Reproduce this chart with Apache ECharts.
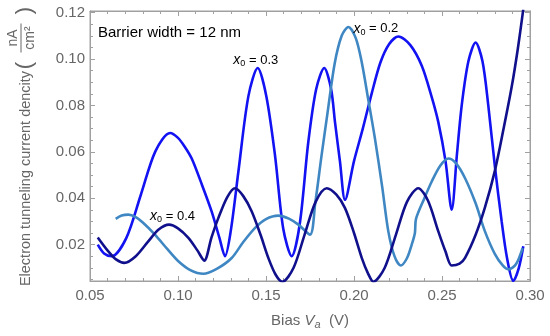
<!DOCTYPE html>
<html>
<head>
<meta charset="utf-8">
<script src="https://cdn.jsdelivr.net/npm/echarts@6/dist/echarts.min.js"></script>
<style>html,body{margin:0;padding:0;background:#fff}#c{width:550px;height:336px}</style>
</head>
<body>
<div id="c"></div>
<script>
// ---- data ----
var xTicks = [0.05, 0.10, 0.15, 0.20, 0.25, 0.30];
var yTicks = [0.02, 0.04, 0.06, 0.08, 0.10, 0.12];
var yMinorTicks = [0.005, 0.01, 0.015, 0.025, 0.03, 0.035, 0.045, 0.05, 0.055, 0.065, 0.07, 0.075, 0.085, 0.09, 0.095, 0.105, 0.11, 0.115];

// x0 = 0.3 (bright blue)
var bias03 = [0.0544,0.0580,0.0623,0.0706,0.0789,0.0872,0.0955,0.1000,0.1040,0.1078,0.1135,0.1191,0.1235,0.1267,0.1300,0.1343,0.1400,0.1453,0.1501,0.1551,0.1598,0.1646,0.1692,0.1740,0.1785,0.1831,0.1870,0.1892,0.1920,0.1949,0.2000,0.2050,0.2100,0.2150,0.2200,0.2252,0.2320,0.2385,0.2440,0.2479,0.2520,0.2555,0.2585,0.2612,0.2650,0.2691,0.2730,0.2763,0.2800,0.2839,0.2870,0.2905,0.2935,0.2962];
var curr03 = [0.0200,0.0162,0.0150,0.0228,0.0415,0.0603,0.0681,0.0660,0.0620,0.0571,0.0460,0.0343,0.0230,0.0150,0.0260,0.0514,0.0840,0.0961,0.0843,0.0586,0.0268,0.0150,0.0290,0.0640,0.0870,0.0961,0.0870,0.0728,0.0560,0.0393,0.0560,0.0700,0.0850,0.0985,0.1065,0.1097,0.1060,0.0971,0.0840,0.0728,0.0560,0.0350,0.0590,0.0800,0.0990,0.1071,0.0990,0.0800,0.0540,0.0300,0.0140,0.0043,0.0095,0.0193];

// x0 = 0.2 (steel blue)
var bias02 = [0.0646,0.0680,0.0718,0.0760,0.0800,0.0869,0.0940,0.1002,0.1070,0.1144,0.1220,0.1305,0.1370,0.1438,0.1500,0.1570,0.1630,0.1684,0.1750,0.1780,0.1815,0.1850,0.1890,0.1930,0.1968,0.2010,0.2044,0.2080,0.2119,0.2160,0.2195,0.2230,0.2265,0.2300,0.2328,0.2346,0.2352,0.2400,0.2441,0.2490,0.2536,0.2580,0.2631,0.2690,0.2744,0.2800,0.2845,0.2878,0.2920,0.2958];
var curr02 = [0.0311,0.0325,0.0329,0.0318,0.0295,0.0243,0.0180,0.0128,0.0090,0.0074,0.0095,0.0142,0.0210,0.0272,0.0310,0.0325,0.0312,0.0286,0.0243,0.0380,0.0580,0.0770,0.0980,0.1100,0.1138,0.1090,0.0986,0.0830,0.0657,0.0450,0.0257,0.0150,0.0110,0.0140,0.0200,0.0250,0.0310,0.0400,0.0471,0.0540,0.0571,0.0550,0.0486,0.0380,0.0257,0.0160,0.0110,0.0093,0.0115,0.0185];

// x0 = 0.4 (navy)
var bias04 = [0.0544,0.0604,0.0650,0.0695,0.0760,0.0831,0.0890,0.0949,0.1000,0.1059,0.1110,0.1149,0.1190,0.1229,0.1280,0.1324,0.1370,0.1419,0.1470,0.1513,0.1555,0.1593,0.1656,0.1719,0.1782,0.1845,0.1900,0.1949,0.2000,0.2044,0.2080,0.2110,0.2174,0.2238,0.2301,0.2365,0.2420,0.2479,0.2520,0.2555,0.2600,0.2631,0.2690,0.2744,0.2801,0.2850,0.2896,0.2930,0.2962];
var curr04 = [0.0231,0.0171,0.0135,0.0121,0.0150,0.0214,0.0265,0.0286,0.0270,0.0229,0.0175,0.0131,0.0230,0.0314,0.0405,0.0443,0.0410,0.0343,0.0240,0.0143,0.0070,0.0040,0.0099,0.0242,0.0384,0.0443,0.0415,0.0357,0.0250,0.0143,0.0075,0.0040,0.0099,0.0242,0.0384,0.0443,0.0390,0.0257,0.0170,0.0110,0.0118,0.0143,0.0240,0.0360,0.0520,0.0700,0.0880,0.1040,0.1215];

var seriesNames = ['x0 = 0.3', 'x0 = 0.2', 'x0 = 0.4'];
var labelPos03 = [0.1442, 0.0995];
var labelPos02 = [0.2124, 0.1130];
var labelPos04 = [0.0969, 0.0323];

function zip(a, b) { return a.map(function (v, i) { return [v, b[i]]; }); }

var FONT = 'Liberation Sans, Arial, Helvetica, sans-serif';
var GRAY = '#666666';
var FRAME = '#a0a0a0';

var labRich = {
  i: { fontFamily: FONT, fontStyle: 'italic', fontSize: 14, color: '#000', lineHeight: 16 },
  s: { fontFamily: FONT, fontSize: 9, color: '#000', lineHeight: 9, verticalAlign: 'bottom' },
  t: { fontFamily: FONT, fontSize: 13, color: '#000', lineHeight: 16 }
};
function mark(pos, val) {
  return {
    symbol: 'rect', symbolSize: 1, silent: true,
    itemStyle: { color: 'rgba(0,0,0,0)' },
    label: { show: true, position: 'inside', formatter: '{i|x}{s|0}{t| = ' + val + '}', rich: labRich },
    data: [{ coord: pos }]
  };
}

var chart = echarts.init(document.getElementById('c'), null, { renderer: 'canvas' });

function yAx(pos, values, len, labels) {
  return {
    type: 'value', position: pos, min: 0.0043, max: 0.1207, offset: 0,
    axisLine: { show: true, lineStyle: { color: FRAME, width: 1 } },
    axisTick: { show: true, inside: true, length: len, customValues: values, lineStyle: { color: FRAME } },
    axisLabel: labels ? { show: true, customValues: values, formatter: function (v) { return v.toFixed(2); },
      fontSize: 15, color: GRAY, fontFamily: FONT, margin: 5 } : { show: false },
    splitLine: { show: false }
  };
}
function xAx(pos, labels) {
  return {
    type: 'value', position: pos, min: 0.05, max: 0.30, interval: 0.05,
    axisLine: { show: true, lineStyle: { color: FRAME, width: 1 } },
    axisTick: { show: true, inside: true, length: 5, lineStyle: { color: FRAME } },
    minorTick: { show: true, splitNumber: 5, length: 3, lineStyle: { color: FRAME } },
    axisLabel: labels ? { show: true, formatter: function (v) { return v.toFixed(2); },
      fontSize: 15, color: GRAY, fontFamily: FONT, margin: 7 } : { show: false },
    splitLine: { show: false }, minorSplitLine: { show: false },
    name: labels ? '{t|Bias }{i|V}{s|a}{t|  (V)}' : '',
    nameLocation: 'middle', nameGap: 31,
    nameTextStyle: {
      rich: {
        t: { fontFamily: FONT, fontSize: 15, color: GRAY, lineHeight: 18 },
        i: { fontFamily: FONT, fontSize: 15, fontStyle: 'italic', color: GRAY, lineHeight: 18 },
        s: { fontFamily: FONT, fontSize: 11, fontStyle: 'italic', color: GRAY, lineHeight: 10, verticalAlign: 'bottom' }
      }
    }
  };
}

var option = {
  animation: false,
  backgroundColor: '#ffffff',
  grid: { left: 90, right: 20, top: 11, bottom: 55, containLabel: false, outerBoundsMode: 'none',
    show: true, borderColor: FRAME, borderWidth: 1 },
  xAxis: [xAx('bottom', true), xAx('top', false)],
  yAxis: [
    yAx('left', yTicks, 5, true),
    yAx('left', yMinorTicks, 3, false),
    yAx('right', yTicks, 5, false),
    yAx('right', yMinorTicks, 3, false)
  ],
  series: [
    { name: seriesNames[0], type: 'line', data: zip(bias03, curr03), showSymbol: false, smooth: 0.3,
      lineStyle: { color: '#1212f2', width: 2.6 }, itemStyle: { color: '#1212f2' }, markPoint: mark(labelPos03, '0.3') },
    { name: seriesNames[1], type: 'line', data: zip(bias02, curr02), showSymbol: false, smooth: 0.3,
      lineStyle: { color: '#3f87c3', width: 2.6 }, itemStyle: { color: '#3f87c3' }, markPoint: mark(labelPos02, '0.2') },
    { name: seriesNames[2], type: 'line', data: zip(bias04, curr04), showSymbol: false, smooth: 0.3,
      lineStyle: { color: '#10108c', width: 2.6 }, itemStyle: { color: '#10108c' }, markPoint: mark(labelPos04, '0.4') }
  ],
  graphic: [
    { type: 'text', left: 98, top: 25, silent: true,
      style: { text: 'Barrier width = 12 nm', font: '15px ' + FONT, fill: '#000' } },
    { type: 'group', x: 26, y: 178.5, rotation: Math.PI / 2, silent: true, children: [
      { type: 'text', x: 0, y: 0, style: { text: 'Electron tunneling current dencity', font: '14.5px ' + FONT, fill: GRAY, textAlign: 'center', textVerticalAlign: 'middle' } },
      { type: 'text', x: 113, y: -1, style: { text: '(', font: '22px ' + FONT, fill: GRAY, textAlign: 'center', textVerticalAlign: 'middle' } },
      { type: 'text', x: 140.5, y: -13, style: { text: 'nA', font: '14px ' + FONT, fill: GRAY, textAlign: 'center', textVerticalAlign: 'middle' } },
      { type: 'line', shape: { x1: 126, y1: -5, x2: 155, y2: -5 }, style: { stroke: GRAY, lineWidth: 1 } },
      { type: 'text', x: 140.5, y: 4, style: { text: 'cm²', font: '14px ' + FONT, fill: GRAY, textAlign: 'center', textVerticalAlign: 'middle' } },
      { type: 'text', x: 168, y: -1, style: { text: ')', font: '22px ' + FONT, fill: GRAY, textAlign: 'center', textVerticalAlign: 'middle' } }
    ] }
  ]
};
chart.setOption(option);
</script>
</body>
</html>
